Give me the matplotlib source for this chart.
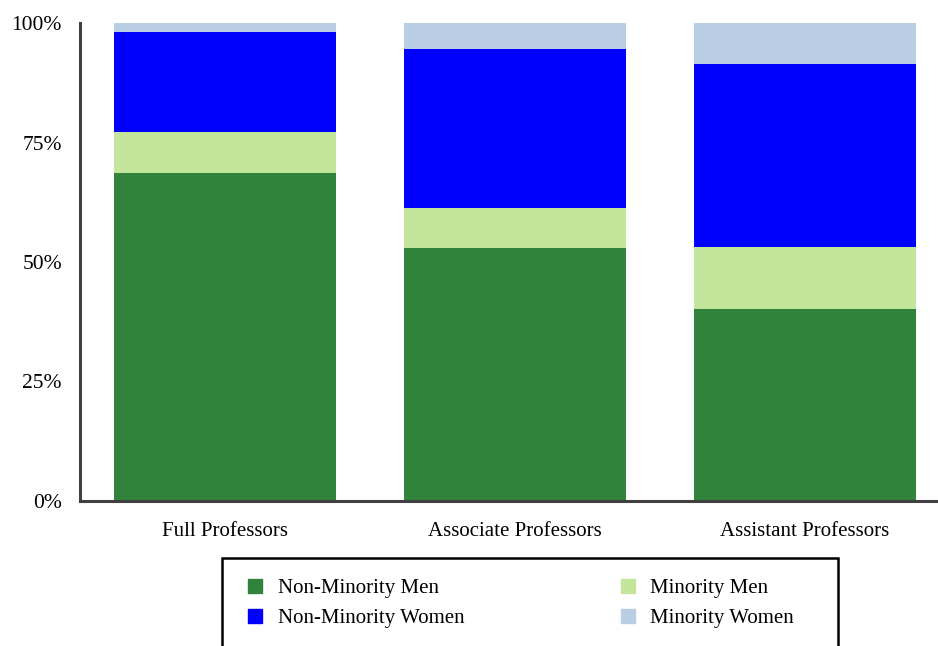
import matplotlib.pyplot as plt
from matplotlib.patches import Patch, Rectangle
import numpy as np

plt.rcParams['font.family'] = ['Liberation Serif', 'DejaVu Serif']

ranks = ['Full Professors', 'Associate Professors', 'Assistant Professors']
groups = ['Non-Minority Men', 'Minority Men', 'Non-Minority Women', 'Minority Women']
colors = ['#31823a', '#c4e59c', '#0000ff', '#b9cde5']

# shares in % (bottom to top)
nonmin_men = [68.6, 52.9, 40.2]
min_men = [8.6, 8.4, 12.9]
nonmin_women = [20.9, 33.3, 38.3]
min_women = [1.9, 5.4, 8.6]
values = [nonmin_men, min_men, nonmin_women, min_women]

fig = plt.figure(figsize=(9.38, 6.46), dpi=100)
ax = fig.add_axes([80/938, 1-501/646, 1-80/938, (501-23)/646])

x = np.arange(len(ranks))
bottom = np.zeros(len(ranks))
for vals, c in zip(values, colors):
    ax.bar(x, vals, 0.766, bottom=bottom, color=c, linewidth=0)
    bottom += np.array(vals)

ax.set_xlim(-0.5, 2.5 - 12/290)
ax.set_ylim(0, 100)
ax.set_yticks([0, 25, 50, 75, 100])
ax.set_yticklabels(['0%', '25%', '50%', '75%', '100%'])
ax.set_xticks(x)
ax.set_xticklabels(ranks)
ax.tick_params(axis='y', length=0, pad=13, labelsize=15.5)
ax.tick_params(axis='x', length=0, pad=15, labelsize=15)
for s in ['top', 'right']:
    ax.spines[s].set_visible(False)
for s in ['left', 'bottom']:
    ax.spines[s].set_color('#404040')
    ax.spines[s].set_linewidth(2.2)

handles = [Patch(color=colors[0]), Patch(color=colors[2]), Patch(color=colors[1]), Patch(color=colors[3])]
labels = [groups[0], groups[2], groups[1], groups[3]]
fig.legend(handles, labels, ncol=2, loc='upper left', bbox_to_anchor=(248/938, 1-579/646),
           frameon=False, fontsize=15, borderpad=0, borderaxespad=0,
           handlelength=0.68, handleheight=0.68, handletextpad=0.75,
           labelspacing=0.5, columnspacing=7.5)
fig.patches.append(Rectangle((222/938, -0.1), 616/938, 0.1 + 1-558/646, transform=fig.transFigure,
                             fill=False, edgecolor='black', linewidth=1.8))

fig.savefig('out.png', dpi=100)
